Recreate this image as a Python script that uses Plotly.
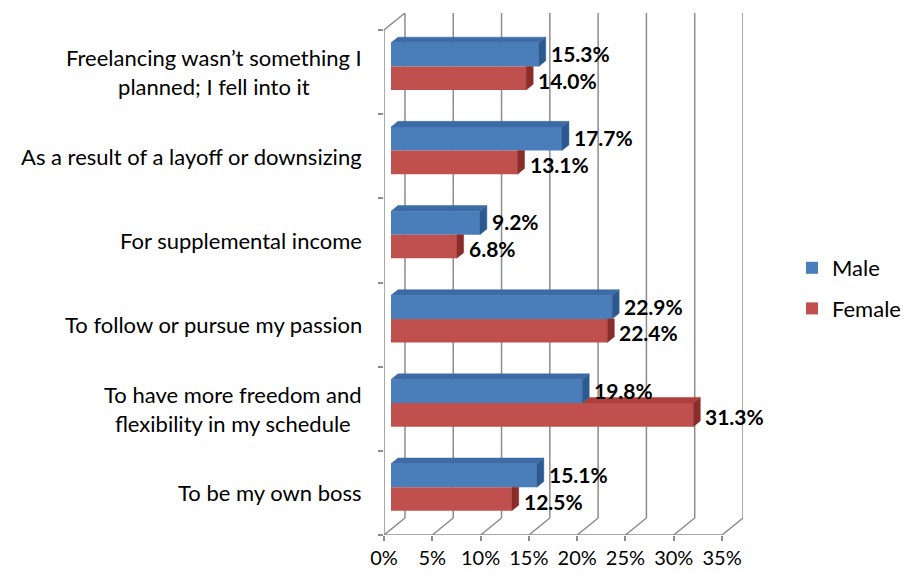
import plotly.graph_objects as go

# Survey data (bottom category first, as the value axis is drawn upward)
categories = [
    "To be my own boss",
    "To have more freedom and<br>flexibility in my schedule",
    "To follow or pursue my passion",
    "For supplemental income",
    "As a result of a layoff or downsizing",
    "Freelancing wasn’t something I<br>planned; I fell into it",
]
male = [15.1, 19.8, 22.9, 9.2, 17.7, 15.3]
female = [12.5, 31.3, 22.4, 6.8, 13.1, 14.0]
x_ticks = [0, 5, 10, 15, 20, 25, 30, 35]
x_tick_text = ["0%", "5%", "10%", "15%", "20%", "25%", "30%", "35%"]

# Pseudo-3D geometry (in data units). Full depth of the box; the bars sit
# in the middle third of that depth.
DEPTH_X = 2.17
DEPTH_Y = 0.202
BAR_H = 0.28
FX, FY = -DEPTH_X / 3, -DEPTH_Y / 3        # front plane offset
BX, BY = DEPTH_X / 3, DEPTH_Y / 3          # bar thickness (side / top)
WX, WY = 2 * DEPTH_X / 3, 2 * DEPTH_Y / 3  # back wall offset
Y_LO, Y_HI = -0.5, len(categories) - 0.5

BLUE, BLUE_TOP, BLUE_SIDE = "#4a7ebb", "#3d6ba6", "#2c5a90"
RED, RED_TOP, RED_SIDE = "#c0504d", "#ad3f3c", "#8a2c2a"
GRID = "#8c8c8c"
FONT = "Lato"

pos = list(range(len(categories)))

fig = go.Figure()

# Front faces of the bars
fig.add_trace(go.Bar(
    y=pos, x=male, orientation="h", name="Male",
    width=BAR_H, offset=0, marker=dict(color=BLUE, line=dict(width=0)),
    legendgroup="m", hoverinfo="x+name",
))
fig.add_trace(go.Bar(
    y=pos, x=female, orientation="h", name="Female",
    width=BAR_H, offset=-BAR_H, marker=dict(color=RED, line=dict(width=0)),
    legendgroup="f", hoverinfo="x+name",
))


def polys_to_xy(polys):
    xs, ys = [], []
    for p in polys:
        for (a, b) in p + [p[0]]:
            xs.append(a)
            ys.append(b)
        xs.append(None)
        ys.append(None)
    return xs, ys


def add_face(polys, color):
    xs, ys = polys_to_xy(polys)
    fig.add_trace(go.Scatter(
        x=xs, y=ys, mode="lines", fill="toself", fillcolor=color,
        line=dict(color=color, width=0.5), hoverinfo="skip",
        showlegend=False,
    ))


# Female (lower) bars: side faces, clipped where the male bar hides them,
# and the part of the top face that extends past the male bar.
red_side, red_top = [], []
for i, (m, f) in enumerate(zip(male, female)):
    y0, y1 = i - BAR_H, i
    top = y1 + BY if f >= m else y1
    red_side.append([(f, y0), (f + BX, y0 + BY), (f + BX, top), (f, y1)])
    if f > m:
        red_top.append([(m, y1), (f, y1), (f + BX, y1 + BY), (m + BX, y1 + BY)])
add_face(red_side, RED_SIDE)
if red_top:
    add_face(red_top, RED_TOP)

# Male (upper) bars: side and top faces
blue_side, blue_top = [], []
for i, m in enumerate(male):
    y0, y1 = i, i + BAR_H
    blue_side.append([(m, y0), (m + BX, y0 + BY), (m + BX, y1 + BY), (m, y1)])
    blue_top.append([(0, y1), (BX, y1 + BY), (m + BX, y1 + BY), (m, y1)])
add_face(blue_side, BLUE_SIDE)
add_face(blue_top, BLUE_TOP)

# Box frame: back-wall gridlines, floor slants, front edges
shapes = []
line = dict(color=GRID, width=1.5)
for t in x_ticks:
    shapes.append(dict(type="line", layer="below", xref="x", yref="y",
                       x0=t + WX, x1=t + WX, y0=Y_LO + WY, y1=Y_HI + WY, line=line))
    shapes.append(dict(type="line", layer="below", xref="x", yref="y",
                       x0=t + FX, x1=t + WX, y0=Y_LO + FY, y1=Y_LO + WY, line=line))
shapes.append(dict(type="line", layer="below", xref="x", yref="y",
                   x0=x_ticks[0] + FX, x1=x_ticks[-1] + FX,
                   y0=Y_LO + FY, y1=Y_LO + FY, line=line))
shapes.append(dict(type="line", layer="below", xref="x", yref="y",
                   x0=FX, x1=FX, y0=Y_LO + FY, y1=Y_HI + FY, line=line))
shapes.append(dict(type="line", layer="below", xref="x", yref="y",
                   x0=FX, x1=WX, y0=Y_HI + FY, y1=Y_HI + WY, line=line))

annotations = []
# Value labels at the end of each bar
value_font = dict(family=FONT, size=21, color="#000000", weight="bold")
for i, (m, f) in enumerate(zip(male, female)):
    annotations.append(dict(
        x=m + BX, y=i + BAR_H / 2, xref="x", yref="y", text=f"{m:.1f}%",
        showarrow=False, xanchor="left", yanchor="middle", xshift=4, yshift=1,
        font=value_font, borderpad=0,
    ))
    annotations.append(dict(
        x=f + BX, y=i - BAR_H / 2, xref="x", yref="y", text=f"{f:.1f}%",
        showarrow=False, xanchor="left", yanchor="middle", xshift=4, yshift=-2,
        font=value_font, borderpad=0,
    ))
# Category labels, centred line by line and right-aligned as a block
for i, c in enumerate(categories):
    annotations.append(dict(
        x=0, y=i + FY, xref="paper", yref="y", text=c, align="center",
        showarrow=False, xanchor="right", yanchor="middle", xshift=-20,
        font=dict(family=FONT, size=22, color="#000000"),
    ))

boundaries = [b + FY for b in [Y_LO + k for k in range(len(categories) + 1)]]

fig.update_layout(
    width=903, height=574,
    margin=dict(l=384, r=160, t=13, b=39, autoexpand=False),
    paper_bgcolor="white", plot_bgcolor="white",
    barmode="overlay",
    shapes=shapes, annotations=annotations,
    font=dict(family=FONT, size=20, color="#000000"),
    legend=dict(
        x=792 / 903, xref="container", xanchor="left",
        y=1 - 247 / 574, yref="container", yanchor="top",
        font=dict(family=FONT, size=22, color="#000000"),
        tracegroupgap=9, traceorder="grouped",
        bgcolor="rgba(0,0,0,0)",
    ),
    xaxis=dict(
        range=[x_ticks[0] + FX, x_ticks[-1] + WX],
        tickmode="array", tickvals=[t + FX for t in x_ticks], ticktext=x_tick_text,
        ticks="outside", ticklen=5, tickcolor=GRID, tickwidth=1.5,
        showgrid=False, zeroline=False, showline=False,
        tickfont=dict(family=FONT, size=20, color="#000000"),
        ticklabelstandoff=0, fixedrange=True, automargin=False,
    ),
    yaxis=dict(
        range=[Y_LO + FY, Y_HI + WY],
        tickmode="array", tickvals=boundaries, ticktext=[""] * len(boundaries),
        ticks="outside", ticklen=5, tickcolor=GRID, tickwidth=1.5,
        showgrid=False, zeroline=False, showline=False, fixedrange=True,
        automargin=False,
    ),
)

fig.write_html("out.html")
